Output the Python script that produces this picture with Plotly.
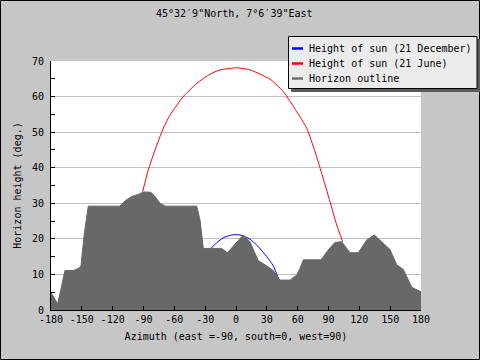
import plotly.graph_objects as go

# ---- data ----
azimuth_horizon = [-180, -173.5, -166.4, -158.3, -153.4, -150.8, -147.6, -143.7, -112.9, -108,
                   -101.5, -95, -90.2, -82.7, -78.8, -73.9, -69, -38.2, -35, -31.8, -13.9, -8.4,
                   7.1, 13.6, 18.5, 21.7, 29.9, 36.3, 42.8, 52.5, 59, 62.3, 65.5, 82.7, 89.8,
                   96.3, 102.8, 110.9, 119, 127.2, 134.6, 141.8, 149.8, 156.4, 162.8, 171, 180]
height_horizon = [4.9, 1.7, 11.1, 11.1, 11.7, 12.4, 21.5, 29.2, 29.2, 30.7,
                  31.9, 32.5, 33.2, 33.1, 31.9, 30, 29.2, 29.2, 25.3, 17.3, 17.3, 16.1,
                  21.1, 19.2, 15.9, 13.9, 12.4, 11.1, 8.4, 8.4, 9.8, 11.7, 14.1, 14.1, 16.9,
                  19.0, 19.2, 16.1, 16.1, 19.7, 21.1, 19.2, 17, 12.7, 11.4, 6.4, 5.1]

azimuth_june = [-90.8, -85.3, -78.8, -70.7, -64.2, -51.3, -38.2, -25.3, -15.6, -5.8, 0.7,
                13.6, 33, 46, 59, 68.8, 76.9, 83.4, 91.5, 98, 103.8]
height_june = [33.3, 39.4, 45, 51.1, 54.8, 60, 63.7, 66.3, 67.5, 67.9, 68.1,
               67.5, 64.9, 61.4, 55.8, 51.1, 44.5, 38.4, 30.4, 23.9, 19.2]

azimuth_december = [-24.6, -18.8, -12.4, -4.2, 3.9, 13.6, 21.7, 29.9, 36.3, 41.2]
height_december = [17.3, 18.9, 20.3, 21.1, 21.1, 19.9, 17.8, 15, 12.4, 8.9]

x_ticks = [-180, -150, -120, -90, -60, -30, 0, 30, 60, 90, 120, 150, 180]
x_tick_labels = [str(v) for v in x_ticks]
y_ticks = [0, 10, 20, 30, 40, 50, 60, 70]

legend_names = ["Height of sun (21 December)", "Height of sun (21 June)", "Horizon outline"]
legend_colors = ["#0000ff", "#ff0000", "#707070"]

title_text = "45°32′9\"North, 7°6′39\"East"
x_title = "Azimuth (east =-90, south=0, west=90)"
y_title = "Horizon height (deg.)"

# ---- layout geometry ----
W, H = 480, 360
L, R, T, B = 51, 59, 61, 50
PW, PH = W - L - R, H - T - B
FONT = "DejaVu Sans Mono"


def px_x(px):
    return (px - L) / PW


def px_y(py):
    return (H - B - py) / PH


fig = go.Figure()
fig.add_trace(go.Scatter(x=azimuth_december, y=height_december, mode="lines",
                         line=dict(color=legend_colors[0], width=1, shape="spline", smoothing=0.6),
                         name=legend_names[0], showlegend=False))
fig.add_trace(go.Scatter(x=azimuth_june, y=height_june, mode="lines",
                         line=dict(color=legend_colors[1], width=1, shape="spline", smoothing=0.6),
                         name=legend_names[1], showlegend=False))
fig.add_trace(go.Scatter(x=azimuth_horizon, y=height_horizon, mode="lines", fill="tozeroy",
                         fillcolor="#686868", line=dict(color="#686868", width=1),
                         name=legend_names[2], showlegend=False))

shapes = []
annotations = []
# outer border
shapes.append(dict(type="rect", xref="paper", yref="paper",
                   x0=px_x(0.5), x1=px_x(479.5), y0=px_y(359.5), y1=px_y(0.5),
                   line=dict(color="black", width=1), fillcolor="rgba(0,0,0,0)", layer="above"))
# legend shadow and box
shapes.append(dict(type="rect", xref="paper", yref="paper",
                   x0=px_x(291), x1=px_x(480), y0=px_y(92), y1=px_y(39),
                   line=dict(width=0), fillcolor="#5a5a5a", layer="above"))
shapes.append(dict(type="rect", xref="paper", yref="paper",
                   x0=px_x(288.5), x1=px_x(477), y0=px_y(88.5), y1=px_y(36.5),
                   line=dict(color="black", width=1), fillcolor="#ebebeb", layer="above"))
for i, (name, color) in enumerate(zip(legend_names, legend_colors)):
    yy = 48.5 + 15 * i
    shapes.append(dict(type="line", xref="paper", yref="paper",
                       x0=px_x(292), x1=px_x(303), y0=px_y(yy), y1=px_y(yy),
                       line=dict(color=color, width=2.5), layer="above"))
    annotations.append(dict(text=name, xref="paper", yref="paper", x=px_x(307), y=px_y(yy),
                            xanchor="left", yanchor="middle", showarrow=False,
                            font=dict(family=FONT, size=10, color="black")))
# title
annotations.append(dict(text=title_text, xref="paper", yref="paper", x=px_x(234), y=px_y(13.5),
                        xanchor="center", yanchor="middle", showarrow=False,
                        font=dict(family=FONT, size=10, color="black")))

fig.update_layout(
    width=W, height=H,
    margin=dict(l=L, r=R, t=T, b=B, pad=0),
    paper_bgcolor="#c6c6c6", plot_bgcolor="white",
    font=dict(family=FONT, size=10, color="black"),
    showlegend=False,
    shapes=shapes, annotations=annotations,
    xaxis=dict(range=[-180, 180], tickvals=x_ticks, ticktext=x_tick_labels,
               ticks="inside", ticklen=4, tickcolor="black", showgrid=False, zeroline=False,
               showline=True, linecolor="black", linewidth=1,
               title=dict(text=x_title, standoff=8, font=dict(family=FONT, size=10))),
    yaxis=dict(range=[0, 70], tickvals=y_ticks,
               ticks="inside", ticklen=4, tickcolor="black", ticklabelstandoff=4,
               showgrid=True, gridcolor="#c0c0c0", gridwidth=1, zeroline=False,
               showline=True, linecolor="black", linewidth=1,
               minor=dict(ticks="inside", ticklen=4, tickcolor="black", dtick=5, showgrid=False),
               title=dict(text=y_title, standoff=8, font=dict(family=FONT, size=10))),
)

fig.write_html("out.html", config={"displayModeBar": False},
               post_script="document.body.style.margin='0';document.body.style.padding='0';")
